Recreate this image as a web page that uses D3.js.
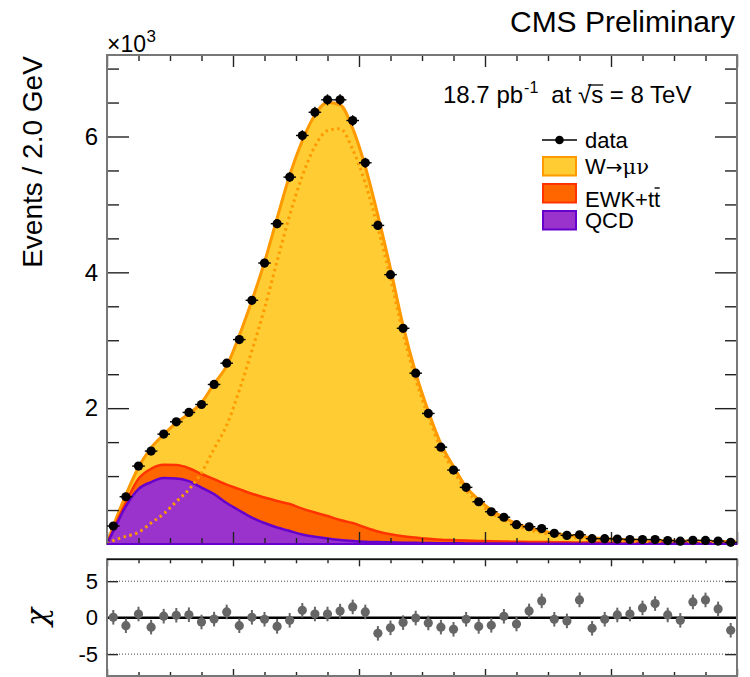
<!DOCTYPE html>
<html>
<head>
<meta charset="utf-8">
<script src="https://cdn.jsdelivr.net/npm/d3@7"></script>
<style>
  body { margin: 0; background: #fff; }
  svg { display: block; }
  text { font-family: "Liberation Sans", Arial, Helvetica, sans-serif; fill: #000; }
</style>
</head>
<body>
<svg id="chart" width="750" height="677"></svg>
<script>
// ---- binning: 50 bins of 2 GeV from 0 to 100 GeV ----
const binWidth = 2;
const xRange = [0, 100];
const binCenters = d3.range(50).map(i => binWidth * i + binWidth / 2);

// observed events per bin
const dataCounts = [265, 696, 1147, 1368, 1618, 1799, 1937, 2054, 2349, 2662,
  3010, 3588, 4137, 4716, 5402, 6015, 6357, 6540, 6540, 6235,
  5613, 4691, 3966, 3176, 2515, 1922, 1426, 1088, 834, 622,
  475, 394, 285, 254, 227, 157, 127, 136, 79, 78,
  73, 66, 66, 65, 50, 42, 55, 53, 43, 24];

// chi = (data - fit) / sigma per bin
const pulls = [0.05, -1.1, 0.5, -1.3, 0.2, 0.33, 0.4, -0.6, -0.2, 0.78,
  -1.1, 0.05, -0.22, -1.2, -0.37, 1.0, 0.5, 0.5, 0.9, 1.47,
  0.78, -2.15, -1.4, -0.68, -0.05, -0.73, -1.3, -1.6, -0.22, -1.2,
  -1.05, 0.19, -0.87, 0.92, 2.3, -0.22, -0.45, 2.43, -1.46, -0.22,
  0.37, 0.5, 1.33, 1.93, 0.37, -0.37, 2.16, 2.43, 1.2, -1.73];

// fitted templates sampled at 0 GeV, each bin centre, and 100 GeV
const modelGeV = [0, ...binCenters, 100];
const qcdModel = [0, 190, 559, 809, 912, 970, 966, 926, 831, 735, 603,
  493, 390, 309, 243, 191, 140, 107, 81, 59, 44,
  34, 29, 25, 20, 17, 14, 12, 10, 9, 8,
  7, 6, 6, 5, 5, 5, 4, 4, 4, 4,
  3, 3, 3, 3, 3, 2, 2, 2, 2, 2, 2];
const ewkModel = [0, 25, 54, 150, 195, 196, 196, 190, 200, 221, 270,
  315, 350, 375, 390, 397, 380, 356, 331, 294, 265,
  209, 155, 118, 95, 78, 62, 52, 47, 42, 38,
  33, 30, 28, 26, 24, 22, 20, 19, 18, 17,
  16, 15, 14, 13, 12, 11, 10, 10, 9, 9, 9];
const wModel = [0, 49, 112, 171, 309, 444, 623, 803, 1050, 1403, 1749,
  2262, 2845, 3467, 4165, 4841, 5417, 5854, 6088, 6114, 5810,
  5312, 4654, 3911, 3099, 2423, 1878, 1411, 1084, 789, 606,
  458, 354, 266, 209, 166, 133, 108, 87, 71, 59,
  51, 44, 39, 35, 32, 31, 29, 26, 25, 23, 22];

// axis ticks
const yMajorTicks = [2000, 4000, 6000];
const yTickLabels = ["2", "4", "6"];
const pullTicks = [5, 0, -5];
const pullTickLabels = ["5", "0", "-5"];

// legend entries
const legendNames = ["W", "EWK+tt", "QCD"];

// colours
const colW = "#ffcc33", colWLine = "#ff9900";
const colEWK = "#ff6600", colEWKLine = "#ff3300";
const colQCD = "#9933cc", colQCDLine = "#6600cc";

// ---- layout ----
const L = 107, R = 737, T = 55, B = 544;
const PT = 559.3, PB = 676;

const svg = d3.select("#chart");
const x = d3.scaleLinear().domain(xRange).range([L, R]);
const y = d3.scaleLinear().domain([0, 7200]).range([B, T]);
const yp = d3.scaleLinear().domain([-8, 8]).range([PB, PT]);

svg.append("defs").append("clipPath").attr("id", "mainClip")
  .append("rect").attr("x", L).attr("y", T).attr("width", R - L).attr("height", B - T);

// ---- stacked templates ----
const rows = modelGeV.map((g, i) => ({ g, qcd: qcdModel[i], ewk: ewkModel[i], w: wModel[i] }));
const stack = d3.stack().keys(["qcd", "ewk", "w"]);
const layers = stack(rows);
const curve = d3.curveMonotoneX;
const area = d3.area().curve(curve)
  .x((d, i) => x(modelGeV[i])).y0(d => y(d[0])).y1(d => y(d[1]));
const topLine = d3.line().curve(curve)
  .x((d, i) => x(modelGeV[i])).y(d => y(d[1]));

const plot = svg.append("g").attr("clip-path", "url(#mainClip)");
const fills = { qcd: colQCD, ewk: colEWK, w: colW };
const lines = { qcd: colQCDLine, ewk: colEWKLine, w: colWLine };
["w", "ewk", "qcd"].forEach(k => {
  const layer = layers.find(l => l.key === k);
  plot.append("path").datum(layer).attr("d", area).attr("fill", fills[k]);
});
["w", "ewk", "qcd"].forEach(k => {
  const layer = layers.find(l => l.key === k);
  plot.append("path").datum(layer).attr("d", topLine)
    .attr("fill", "none").attr("stroke", lines[k])
    .attr("stroke-width", k === "w" ? 3 : 2.5).attr("stroke-linejoin", "round");
});
// signal template on its own (dotted)
plot.append("path").datum(wModel)
  .attr("d", d3.line().curve(curve).x((d, i) => x(modelGeV[i])).y(d => y(d)))
  .attr("fill", "none").attr("stroke", colWLine).attr("stroke-width", 3)
  .attr("stroke-dasharray", "2.5,3.5");

// ---- frames and ticks ----
const tickColor = "#222";
function styleAxis(g) {
  g.select(".domain").remove();
  g.selectAll(".tick line").attr("stroke", tickColor).attr("stroke-width", 1.4);
  g.selectAll(".tick text").attr("fill", "#000")
    .style("font-family", "'Liberation Sans', Arial, sans-serif");
}
const xMajor = d3.range(0, 101, 20);
const xMinor = d3.range(0, 101, 5).filter(v => v % 20 !== 0);
const yMinor = d3.range(500, 7200, 500).filter(v => v % 2000 !== 0);

svg.append("g").attr("transform", `translate(${L},0)`)
  .call(d3.axisLeft(y).tickValues(yMajorTicks).tickSize(-22).tickPadding(9)
    .tickFormat((d, i) => yTickLabels[i]))
  .call(styleAxis).call(g => g.selectAll(".tick text").attr("font-size", 24));
svg.append("g").attr("transform", `translate(${L},0)`)
  .call(d3.axisLeft(y).tickValues(yMinor).tickSize(-12).tickFormat(""))
  .call(styleAxis);
svg.append("g").attr("transform", `translate(${R},0)`)
  .call(d3.axisRight(y).tickValues(yMajorTicks).tickSize(-22).tickFormat(""))
  .call(styleAxis);
svg.append("g").attr("transform", `translate(${R},0)`)
  .call(d3.axisRight(y).tickValues(yMinor).tickSize(-12).tickFormat(""))
  .call(styleAxis);
svg.append("g").attr("transform", `translate(0,${T})`)
  .call(d3.axisTop(x).tickValues(xMajor).tickSize(-12).tickFormat("")).call(styleAxis);
svg.append("g").attr("transform", `translate(0,${T})`)
  .call(d3.axisTop(x).tickValues(xMinor).tickSize(-6).tickFormat("")).call(styleAxis);
svg.append("g").attr("transform", `translate(0,${B})`)
  .call(d3.axisBottom(x).tickValues(xMajor).tickSize(-12).tickFormat("")).call(styleAxis);
svg.append("g").attr("transform", `translate(0,${B})`)
  .call(d3.axisBottom(x).tickValues(xMinor).tickSize(-6).tickFormat("")).call(styleAxis);

svg.append("rect").attr("x", L).attr("y", T).attr("width", R - L).attr("height", B - T)
  .attr("fill", "none").attr("stroke", "#777").attr("stroke-width", 2);
svg.append("line").attr("x1", L).attr("x2", R).attr("y1", B).attr("y2", B)
  .attr("stroke", colQCDLine).attr("stroke-width", 2);

// ---- data points ----
const pts = svg.append("g");
binCenters.forEach((c, i) => {
  const n = dataCounts[i], e = Math.sqrt(n);
  pts.append("line").attr("x1", x(c - binWidth / 2)).attr("x2", x(c + binWidth / 2))
    .attr("y1", y(n)).attr("y2", y(n)).attr("stroke", "#000").attr("stroke-width", 1.4);
  pts.append("line").attr("x1", x(c)).attr("x2", x(c))
    .attr("y1", y(n - e)).attr("y2", y(n + e)).attr("stroke", "#000").attr("stroke-width", 1.4);
  pts.append("circle").attr("cx", x(c)).attr("cy", y(n)).attr("r", 4.6).attr("fill", "#000");
});

// ---- pull panel ----
const pull = svg.append("g");
[5, -5].forEach(v => pull.append("line").attr("x1", L).attr("x2", R)
  .attr("y1", yp(v)).attr("y2", yp(v)).attr("stroke", "#444").attr("stroke-width", 1)
  .attr("stroke-dasharray", "1,2"));

svg.append("g").attr("transform", `translate(${L},0)`)
  .call(d3.axisLeft(yp).tickValues(pullTicks).tickSize(-11).tickPadding(9)
    .tickFormat((d, i) => pullTickLabels[i]))
  .call(styleAxis).call(g => g.selectAll(".tick text").attr("font-size", 22));
svg.append("g").attr("transform", `translate(${R},0)`)
  .call(d3.axisRight(yp).tickValues(pullTicks).tickSize(-12).tickFormat(""))
  .call(styleAxis);
svg.append("g").attr("transform", `translate(0,${PT})`)
  .call(d3.axisTop(x).tickValues(xMajor).tickSize(-7).tickFormat("")).call(styleAxis);
svg.append("g").attr("transform", `translate(0,${PT})`)
  .call(d3.axisTop(x).tickValues(xMinor).tickSize(-4).tickFormat("")).call(styleAxis);
svg.append("g").attr("transform", `translate(0,${PB})`)
  .call(d3.axisBottom(x).tickValues(xMajor).tickSize(-7).tickFormat("")).call(styleAxis);
svg.append("g").attr("transform", `translate(0,${PB})`)
  .call(d3.axisBottom(x).tickValues(xMinor).tickSize(-4).tickFormat("")).call(styleAxis);

svg.append("line").attr("x1", L).attr("x2", R).attr("y1", yp(0)).attr("y2", yp(0))
  .attr("stroke", "#000").attr("stroke-width", 2.5);
svg.append("rect").attr("x", L).attr("y", PT).attr("width", R - L).attr("height", PB - PT)
  .attr("fill", "none").attr("stroke", "#777").attr("stroke-width", 2);
svg.append("line").attr("x1", L).attr("x2", R).attr("y1", PT).attr("y2", PT)
  .attr("stroke", "#111").attr("stroke-width", 1.5);

binCenters.forEach((c, i) => {
  const p = pulls[i];
  pull.append("line").attr("x1", x(c)).attr("x2", x(c))
    .attr("y1", yp(p - 1)).attr("y2", yp(p + 1)).attr("stroke", "#666").attr("stroke-width", 2);
  pull.append("circle").attr("cx", x(c)).attr("cy", yp(p)).attr("r", 4.6).attr("fill", "#666");
});
pull.raise();

// ---- titles ----
svg.append("text").attr("transform", "translate(42,162) rotate(-90)")
  .attr("text-anchor", "middle").attr("font-size", 28).text("Events / 2.0 GeV");
svg.append("text").attr("transform", "translate(47,617) rotate(-90)")
  .attr("text-anchor", "middle").attr("font-size", 30)
  .style("font-family", "'DejaVu Serif', serif").style("font-style", "italic").text("\u03c7");

svg.append("text").attr("x", 735).attr("y", 32).attr("text-anchor", "end")
  .attr("font-size", 30).text("CMS Preliminary");

const mult = svg.append("text").attr("x", 107).attr("y", 52).attr("font-size", 23).text("\u00d710");
const mw = mult.node().getComputedTextLength();
svg.append("text").attr("x", 107 + mw + 0.5).attr("y", 42).attr("font-size", 17).text("3");

// luminosity / energy
const lumi1 = svg.append("text").attr("x", 443).attr("y", 103).attr("font-size", 24).text("18.7 pb");
const l1w = lumi1.node().getComputedTextLength();
const sup = svg.append("text").attr("x", 443 + l1w + 1).attr("y", 93).attr("font-size", 16).text("-1");
const supw = sup.node().getComputedTextLength();
const lumi2 = svg.append("text").attr("x", 443 + l1w + supw + 14).attr("y", 103)
  .attr("font-size", 24).text("at \u221as = 8 TeV");
{
  const n = lumi2.node();
  const x0 = +lumi2.attr("x");
  const a = n.getSubStringLength(0, 3), b = n.getSubStringLength(0, 4), c = n.getSubStringLength(0, 5);
  svg.append("line").attr("x1", x0 + a + (b - a) * 0.75).attr("x2", x0 + c)
    .attr("y1", 85).attr("y2", 85).attr("stroke", "#000").attr("stroke-width", 1.3);
}

// ---- legend ----
const lgX = 542, lgW = 35;
svg.append("line").attr("x1", lgX).attr("x2", lgX + lgW).attr("y1", 140).attr("y2", 140)
  .attr("stroke", "#000").attr("stroke-width", 1.5);
svg.append("circle").attr("cx", lgX + lgW / 2).attr("cy", 140).attr("r", 4.3).attr("fill", "#000");
svg.append("text").attr("x", 585).attr("y", 148).attr("font-size", 22).text("data");

const boxes = [
  { y: 157, fill: colW, stroke: colWLine, ty: 174 },
  { y: 184, fill: colEWK, stroke: colEWKLine, ty: 207 },
  { y: 211, fill: colQCD, stroke: colQCDLine, ty: 228 }
];
boxes.forEach((b, i) => {
  svg.append("rect").attr("x", lgX + 1).attr("y", b.y).attr("width", lgW - 2).attr("height", 18.5)
    .attr("fill", b.fill).attr("stroke", b.stroke).attr("stroke-width", 2);
  const t = svg.append("text").attr("x", 585).attr("y", b.ty).attr("font-size", 22).text(legendNames[i]);
  if (i === 0) {
    // decay arrow and greek letters
    t.append("tspan").style("font-family", "'DejaVu Sans', sans-serif").attr("font-size", 20)
      .text("\u2192");
    t.append("tspan").style("font-family", "'DejaVu Serif', serif").attr("font-size", 21)
      .text("\u03bc\u03bd");
  }
  if (i === 1) {
    const n = t.node();
    const a = n.getSubStringLength(0, 5), c = n.getSubStringLength(0, 6);
    svg.append("line").attr("x1", 585 + a + 0.5).attr("x2", 585 + c - 0.5)
      .attr("y1", b.ty - 19).attr("y2", b.ty - 19).attr("stroke", "#000").attr("stroke-width", 1.4);
  }
});
</script>
</body>
</html>
